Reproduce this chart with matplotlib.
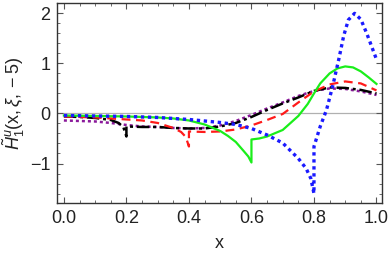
import matplotlib
matplotlib.use("Agg")
import matplotlib.pyplot as plt
from matplotlib.ticker import MultipleLocator


# =========================
# DATA
# =========================
x_black = [0.0, 0.05, 0.1, 0.15, 0.175, 0.19, 0.2, 0.2, 0.25, 0.3, 0.35, 0.4, 0.45,
           0.5, 0.55, 0.6, 0.65, 0.7, 0.75, 0.8, 0.85, 0.9, 0.95, 1.0]
y_black = [-0.06, -0.07, -0.09, -0.13, -0.19, -0.27, -0.46, -0.26, -0.27, -0.27, -0.29,
           -0.30, -0.30, -0.26, -0.19, -0.07, 0.07, 0.20, 0.32, 0.45, 0.52, 0.51, 0.47, 0.40]

x_red = [0.0, 0.05, 0.1, 0.15, 0.2, 0.25, 0.3, 0.35, 0.375, 0.39, 0.4, 0.4, 0.45, 0.5,
         0.55, 0.6, 0.65, 0.7, 0.75, 0.8, 0.85, 0.9, 0.95, 1.0]
y_red = [-0.06, -0.07, -0.08, -0.10, -0.12, -0.14, -0.19, -0.29, -0.37, -0.47, -0.66,
         -0.36, -0.37, -0.36, -0.32, -0.24, -0.13, -0.01, 0.22, 0.44, 0.58, 0.64, 0.60, 0.46]

x_green = [0.0, 0.1, 0.2, 0.3, 0.35, 0.4, 0.45, 0.5, 0.525, 0.55, 0.575, 0.59, 0.6,
           0.6, 0.625, 0.65, 0.7, 0.75, 0.78, 0.8, 0.82, 0.85, 0.875, 0.9, 0.925,
           0.95, 0.975, 1.0]
y_green = [-0.04, -0.05, -0.06, -0.08, -0.10, -0.14, -0.22, -0.35, -0.45, -0.57, -0.75,
           -0.86, -0.98, -0.52, -0.50, -0.46, -0.33, -0.05, 0.19, 0.40, 0.60, 0.80, 0.90,
           0.94, 0.92, 0.84, 0.72, 0.59]

x_blue = [0.0, 0.1, 0.2, 0.3, 0.35, 0.4, 0.45, 0.5, 0.55, 0.6, 0.65, 0.7, 0.75, 0.775,
          0.79, 0.8, 0.8, 0.82, 0.84, 0.86, 0.88, 0.895, 0.91, 0.93, 0.95, 0.97, 1.0]
y_blue = [-0.04, -0.05, -0.06, -0.08, -0.10, -0.12, -0.15, -0.18, -0.22, -0.30, -0.43,
          -0.59, -0.90, -1.10, -1.30, -1.60, -0.66, -0.26, 0.07, 0.55, 1.10, 1.55, 1.87,
          2.00, 1.88, 1.58, 1.08]

x_purple = [0.0, 0.05, 0.1, 0.15, 0.2, 0.25, 0.3, 0.35, 0.4, 0.45, 0.5, 0.55, 0.6,
            0.65, 0.7, 0.75, 0.8, 0.85, 0.9, 0.95, 1.0]
y_purple = [-0.14, -0.15, -0.16, -0.19, -0.23, -0.26, -0.27, -0.29, -0.30, -0.29, -0.24,
            -0.15, -0.03, 0.10, 0.22, 0.35, 0.45, 0.50, 0.49, 0.44, 0.37]

x_ticks = [0.0, 0.2, 0.4, 0.6, 0.8, 1.0]
x_ticklabels = ["0.0", "0.2", "0.4", "0.6", "0.8", "1.0"]
y_ticks = [-1, 0, 1, 2]
y_ticklabels = ["\u22121", "0", "1", "2"]


# =========================
# STYLE
# =========================
plt.rcParams["font.family"] = ["Liberation Sans", "DejaVu Sans"]
plt.rcParams["mathtext.fontset"] = "custom"
plt.rcParams["mathtext.rm"] = "Liberation Sans"
plt.rcParams["mathtext.it"] = "Liberation Sans:italic"
plt.rcParams["mathtext.bf"] = "Liberation Sans:bold"

fig = plt.figure(figsize=(3.9, 2.58), dpi=100)
ax = fig.add_axes([0.147, 0.213, 0.832, 0.774])

ax.axhline(0, color="#b0b0b0", lw=0.9, zorder=1)

ax.plot(x_purple, y_purple, color="#8b1a9b", lw=1.8, linestyle=(0, (1.2, 1.2)), zorder=3)
ax.plot(x_black, y_black, color="black", lw=1.8, linestyle=(0, (5, 1.5, 1.2, 1.5)), zorder=4)
ax.plot(x_red, y_red, color="#ff1a1a", lw=1.6, linestyle=(0, (4, 2.5)), zorder=5)
ax.plot(x_green, y_green, color="#1aee1a", lw=1.6, zorder=6)
ax.plot(x_blue, y_blue, color="#1a1aff", lw=2.4, linestyle=(0, (1, 1.1)), zorder=7)

ax.set_xlim(-0.021, 1.017)
ax.set_ylim(-1.79, 2.2)

ax.set_xticks(x_ticks)
ax.set_xticklabels(x_ticklabels)
ax.set_yticks(y_ticks)
ax.set_yticklabels(y_ticklabels)
ax.xaxis.set_minor_locator(MultipleLocator(0.05))
ax.yaxis.set_minor_locator(MultipleLocator(0.2))

ax.tick_params(which="both", direction="in", top=True, right=True,
               color="#555555", labelsize=13, labelcolor="#222222", pad=5)
ax.tick_params(which="major", length=4.5, width=0.8)
ax.tick_params(which="minor", length=2.5, width=0.6)

for sp in ax.spines.values():
    sp.set_color("#333333")
    sp.set_linewidth(1.0)

ax.set_xlabel("x", fontsize=13, color="#222222", labelpad=6)
ax.set_ylabel(r"$\tilde{H}^{u}_{1}(\mathrm{x},\xi,-5)$", fontsize=13, color="#222222",
              labelpad=2)

fig.savefig("out.png", dpi=100)
